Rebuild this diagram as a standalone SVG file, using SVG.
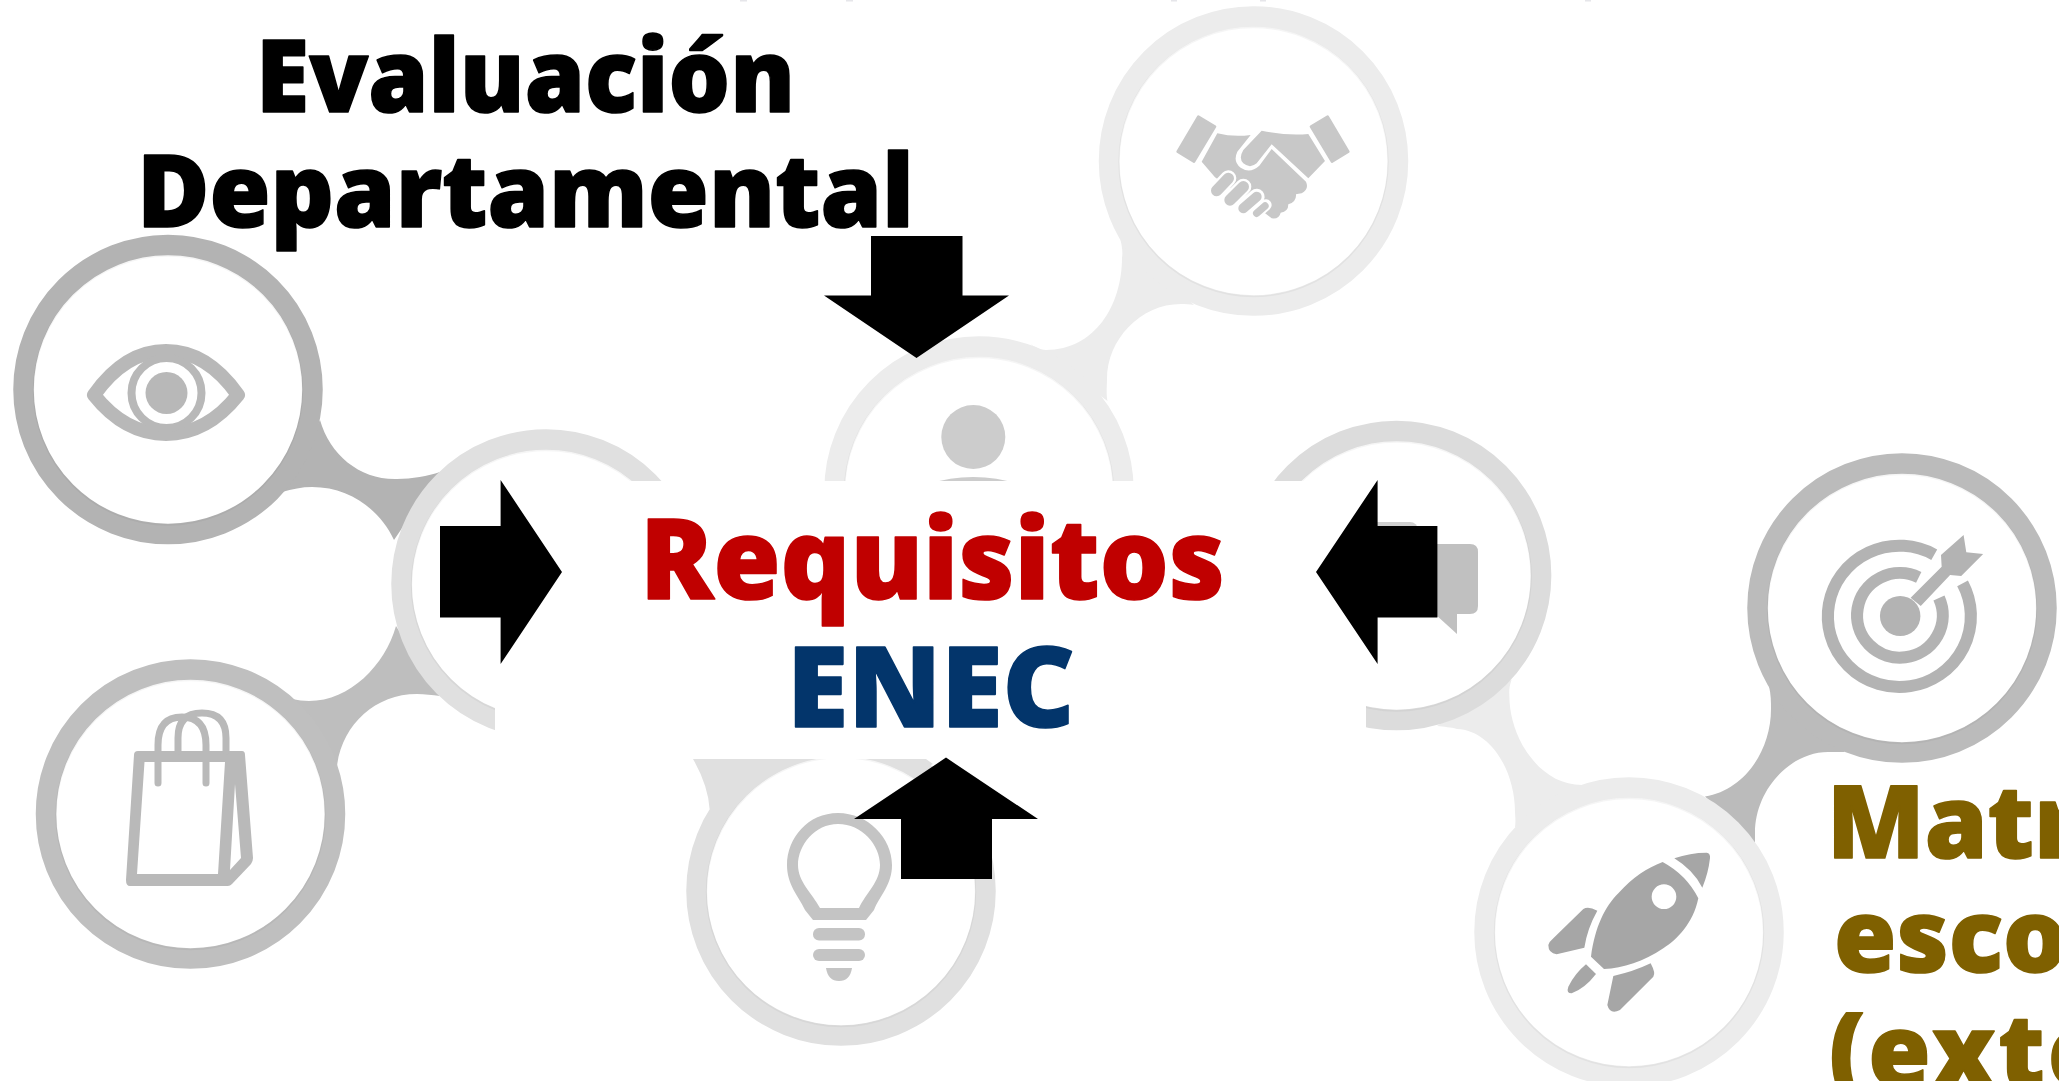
<svg xmlns="http://www.w3.org/2000/svg" width="2059" height="1081" viewBox="0 0 2059 1081">
<style>
.ring{fill:#fff;stroke-width:20.5}
.edge{fill:none;stroke:#000;stroke-opacity:.04;stroke-width:1.5}
.t{font-family:"Noto Sans","Open Sans","DejaVu Sans",sans-serif;font-weight:900;font-size:101px;stroke-width:1.6;stroke-linejoin:round}
.big{font-size:112px}
.gold{fill:#7f6000;stroke:#7f6000}
.blk{fill:#000;stroke:#000}
</style>
<defs>
<g id="ringshade"><circle class="edge" r="134.500" cy="1"/></g>
</defs>
<rect width="2059" height="1081" fill="#fff"/>
<g id="top-marks" fill="#e6e6ea">
<rect x="740" y="0" width="7" height="1.500"/><rect x="846" y="0" width="7" height="1.500"/><rect x="1171" y="0" width="6" height="1.500"/><rect x="1260" y="0" width="6" height="1.500"/><rect x="1585" y="0" width="6" height="1.500"/>
</g>
<g id="connectors">
<path fill="#b3b3b3" d="M320 420C330 455 360 480 397 479C412 479 428 476 440 472L394 540C380 510 350 487 312 487C302 487 292 489 282 492Z"/>
<path fill="#bebebe" d="M292 699C298 700 303 701 309 701C350 701 385 665 396 626L440 696C432 695 425 694 417 694C375 694 342 725 337 766Z"/>
<path fill="#ececec" d="M1119 234C1122 245 1123 252 1122 258C1122 305 1095 350 1046 350C1040 350 1035 347 1030 344L1107.500 401C1106 395 1107 385 1107 379C1107 340 1140 304 1181 304C1185 304 1190 304 1194 305Z"/>
<path fill="#ececec" d="M1511.600 679.500C1508 690 1509.600 695 1509.600 702C1512 740 1540 785 1582 785L1515 827.500C1516 820 1515 815 1515 812C1515 770 1490 730 1457 729C1450 727 1445 727 1437 726Z"/>
<path fill="#bbb" d="M1769 686C1771 695 1771 702 1771 709C1771 750 1745 790 1705 796.500L1755 843C1755 838 1755 835 1755 833C1755 790 1790 752 1828 752C1835 752 1840 752 1845 752Z"/>
<path fill="#e0e0e0" d="M693 759Q708 785 709.600 809L760 800L900 780L933 764L926 759Z"/>
</g>
<g id="node-eye">
<circle class="ring" cx="168" cy="389.500" r="144.500" stroke="#b3b3b3"/>
<use href="#ringshade" x="168" y="389.500"/>
<path d="M94 395Q125 351 166 351Q207 351 238 395Q207 434 166 434Q125 434 94 395Z" fill="#fff" stroke="#b8b8b8" stroke-width="14" stroke-linejoin="round"/>
<circle cx="166.500" cy="393" r="35" fill="none" stroke="#b8b8b8" stroke-width="8"/>
<circle cx="166.500" cy="393" r="21" fill="#b8b8b8"/>
</g>
<g id="node-handshake">
<circle class="ring" cx="1253.500" cy="161" r="144.500" stroke="#ececec"/>
<use href="#ringshade" x="1253.500" y="161"/>
<g transform="translate(1160 100) scale(.3333)" fill="#c8c8c8">
<path stroke="#c8c8c8" stroke-width="8" stroke-linejoin="round" d="M115 50L165 80L102 185L53 155Z"/>
<path stroke="#c8c8c8" stroke-width="8" stroke-linejoin="round" d="M503 50L453 80L516 185L565 155Z"/>
<path d="M305 92Q380 108 445 102L495 183L445 235L335 133L290 190Q270 207 250 190Q235 175 250 150Z"/>
<path d="M172 100Q220 112 272 105L232 155Q218 185 242 203Q270 222 298 197L335 147L438 245Q448 268 425 280Q415 282 408 283Q410 305 385 313Q385 335 362 338Q358 358 335 355L290 320L165 232L125 185Z"/>
<g fill="none" stroke-linecap="round">
<path stroke="#fff" stroke-width="48" d="M205 235L170 272M250 260L210 300M290 290L250 325"/>
<path stroke="#fff" stroke-width="34" d="M318 315L290 340"/>
<path stroke="#c8c8c8" stroke-width="34" d="M205 235L170 272M250 260L210 300"/>
<path stroke="#c8c8c8" stroke-width="30" d="M290 290L250 325"/>
<path stroke="#c8c8c8" stroke-width="22" d="M315 318L290 340"/>
</g>
</g>
</g>
<g id="node-person">
<circle class="ring" cx="979" cy="491" r="144.500" stroke="#ececec"/>
<use href="#ringshade" x="979" y="491"/>
<circle cx="973.300" cy="437" r="32" fill="#ccc"/>
<ellipse cx="973.300" cy="500" rx="60" ry="23" fill="#ccc"/>
</g>
<g id="node-left">
<circle class="ring" cx="546" cy="584" r="144.500" stroke="#e0e0e0"/>
<use href="#ringshade" x="546" y="584"/>
</g>
<g id="node-speech">
<circle class="ring" cx="1396.600" cy="575.500" r="144.500" stroke="#dcdcdc"/>
<use href="#ringshade" x="1396.600" y="575.500"/>
<rect x="1300" y="522" width="118" height="80" rx="8" fill="#d0d0d0"/>
<path fill="#c0c0c0" d="M1420 544H1470Q1478 544 1478 552V606Q1478 614 1470 614H1457V634L1438 616.700H1420Z"/>
</g>
<g id="node-target">
<circle class="ring" cx="1902" cy="608" r="144.500" stroke="#bbb"/>
<use href="#ringshade" x="1902" y="608"/>
<g transform="translate(1800 520) scale(.3373 .3333)">
<circle cx="297" cy="288" r="60" fill="#b3b3b3"/>
<g fill="none" stroke="#b3b3b3" stroke-width="36">
<path d="M398 104A212 212 0 1 0 482 190"/>
<path d="M352 172A127 127 0 1 0 412 234"/>
</g>
<path fill="#b3b3b3" d="M328 233L420 140L418 105L485 45L493 97L543 102L478 168L445 165L358 258Z"/>
</g>
</g>
<g id="node-rocket">
<circle class="ring" cx="1629" cy="932" r="144.500" stroke="#ececec"/>
<use href="#ringshade" x="1629" y="932"/>
<g transform="translate(1530 840) scale(.3333)" fill="#a6a6a6">
<path fill-rule="evenodd" d="M398 66Q470 105 505 175C490 250 440 300 400 325C340 365 280 385 222 387L183 350C195 260 225 200 265 160C310 110 350 85 398 66ZM402 133A37 37 0 1 0 402 207A37 37 0 1 0 402 133Z"/>
<path d="M433 55Q480 38 530 38Q542 40 540 55Q535 100 517 143Q490 90 433 55Z"/>
<path d="M160 207Q175 198 202 212Q172 265 163 323L80 343Q55 340 55 315Q58 305 70 295Z"/>
<path d="M362 370Q378 400 370 410L270 510Q240 525 232 495L250 408Q310 395 362 370Z"/>
<path d="M168 373L198 402Q165 445 125 460Q108 460 115 440Q135 400 168 373Z"/>
</g>
</g>
<g id="node-bag">
<circle class="ring" cx="190.500" cy="814" r="144.500" stroke="#bfbfbf"/>
<use href="#ringshade" x="190.500" y="814"/>
<path fill="#b9b9b9" fill-rule="evenodd" d="M138 751H242Q245 751 245 755L253 858Q253 861 251 864L232 884Q230 886 228 886H130Q126 886 126 880L134 755Q134 751 138 751ZM144.500 762L137 874H218L225 762ZM235 784L230 870L241 858Z"/>
<g fill="none" stroke="#b9b9b9" stroke-width="7" stroke-linecap="round">
<path d="M158 783V745Q158 717 182 717Q206 717 206 745V783"/>
<path d="M178 751V738Q178 713 202 713Q226 713 226 738V751"/>
</g>
</g>
<g id="node-bulb">
<circle class="ring" cx="841" cy="891" r="144.500" stroke="#e0e0e0"/>
<use href="#ringshade" x="841" y="891"/>
<path fill="#c4c4c4" fill-rule="evenodd" d="M838 813C868 813 892 838 892 865C892 885 880 895 874 910L866 920H813L805 910C798 895 787 885 787 865C787 838 808 813 838 813ZM838 824C815 824 798 845 798 865C798 882 812 893 820 908H859C866 893 880 882 880 865C880 845 862 824 838 824Z"/>
<rect x="813" y="928" width="52" height="12.500" rx="6" fill="#c4c4c4"/>
<rect x="813" y="949" width="52" height="12" rx="6" fill="#c4c4c4"/>
<path fill="#c4c4c4" d="M826 968H852Q850 981 839 981Q828 981 826 968Z"/>
</g>
<rect id="center-panel" x="495" y="481" width="871" height="278" fill="#fff"/>
<g id="arrows" fill="#000">
<path d="M871 236H962.500V295.500H1009L916.500 358L824 295.500H871Z"/>
<path d="M440 526H500.600V480L562 572L500.600 664V617.500H440Z"/>
<path d="M1437.400 526H1377.600V480L1316 572L1377.600 664V617.500H1437.400Z"/>
<path d="M901 879V819H854L946 757.600L1038 819H992V879Z"/>
</g>
<g id="labels">
<text class="t blk" x="256" y="112" textLength="539" lengthAdjust="spacingAndGlyphs">Evaluación</text>
<text class="t blk" x="137" y="227" textLength="777" lengthAdjust="spacingAndGlyphs">Departamental</text>
<text class="t big" x="640" y="599" textLength="585" lengthAdjust="spacingAndGlyphs" fill="#c00000" stroke="#c00000">Requisitos</text>
<text class="t big" x="787" y="727" textLength="288" lengthAdjust="spacingAndGlyphs" fill="#03356b" stroke="#03356b">ENEC</text>
<text class="t gold" x="1827" y="857.500">Matr</text>
<text class="t gold" x="1834" y="972">esco</text>
<text class="t gold" x="1829" y="1087" letter-spacing="3">(exte</text>
</g>
</svg>
